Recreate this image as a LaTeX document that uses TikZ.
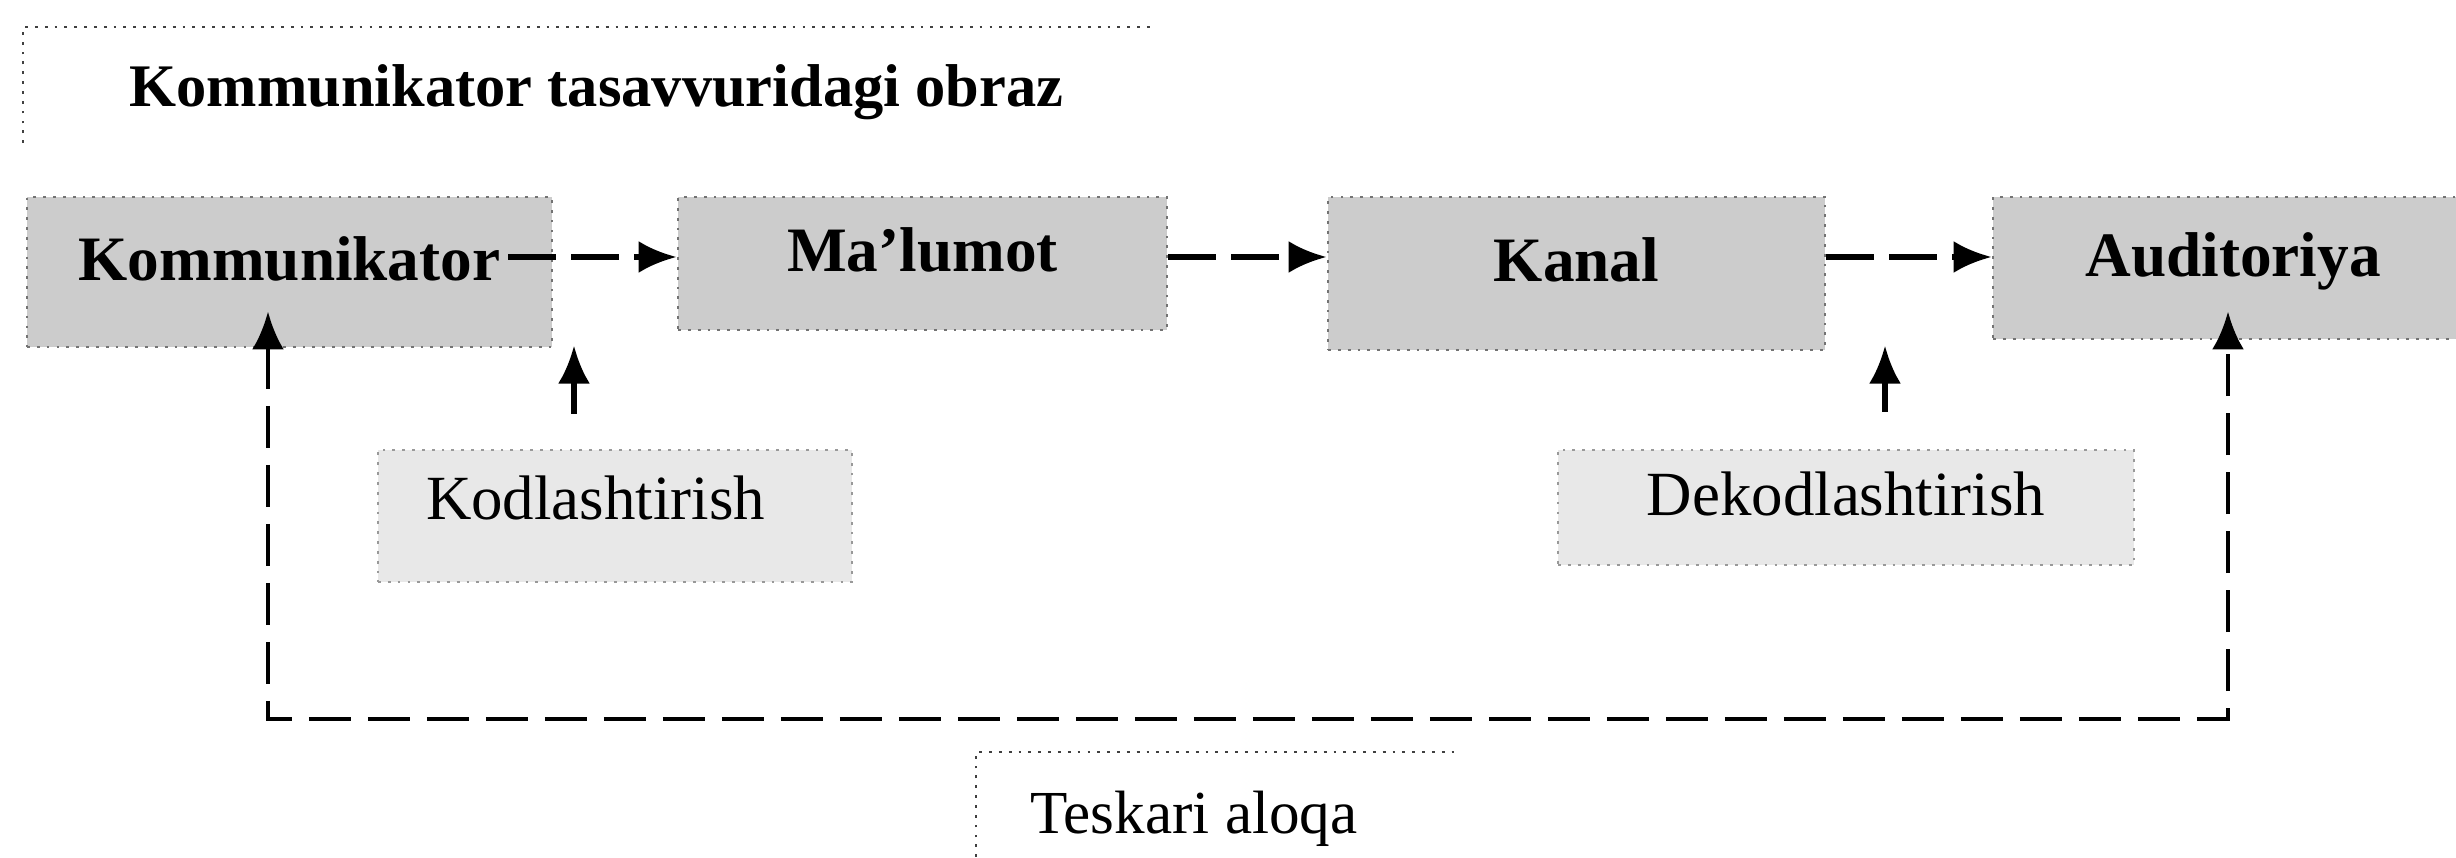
\documentclass[tikz,border=0pt]{standalone}
\usepackage{fontspec}
\setmainfont{Liberation Serif}
\usepackage{tikz}
\usetikzlibrary{calc,arrows.meta}

\begin{document}
\begin{tikzpicture}[
	>={Latex[length=3.8mm,width=3.2mm]},
	mainbox/.style={fill=black!20, draw=black!55, dotted, line width=0.8pt, inner sep=0pt, text height=0.7em, text depth=0.22em, font=\bfseries\fontsize{18}{21}\selectfont},
	subbox/.style={fill=black!9, draw=black!40, dotted, line width=0.8pt, inner sep=0pt, text height=0.7em, text depth=0.22em, font=\fontsize{17.9}{21}\selectfont},
	flow/.style={->, line width=1.5pt, dash pattern=on 4.8mm off 1.5mm},
	rise/.style={->, line width=1.5pt},
	feedback/.style={<->, line width=1.4pt, dash pattern=on 4.2mm off 1.7mm},
	edgeline/.style={dotted, line width=0.8pt, black!75}
]

	\useasboundingbox (0,0) rectangle (24.56,8.57);
	\clip (0,0) rectangle (24.56,8.57);

	\node (obraz)[anchor=base, font=\bfseries\fontsize{17.2}{20}\selectfont] at (5.965,7.50) {Kommunikator tasavvuridagi obraz};
	\draw [edgeline] (0.23,7.14) |- (11.55,8.30);

	\node (kom)[mainbox, minimum width=5.25cm, minimum height=1.50cm] at (2.895,5.85) {Kommunikator};
	\node (mal)[mainbox, minimum width=4.89cm, minimum height=1.33cm] at (9.225,5.935) {Ma’lumot};
	\node (kan)[mainbox, minimum width=4.97cm, minimum height=1.53cm] at (15.765,5.835) {Kanal};
	\node (aud)[mainbox, minimum width=4.80cm, minimum height=1.42cm] at (22.33,5.89) {Auditoriya}; %box runs past the right edge

	\node (kod)[subbox, inner xsep=0.48cm, text width=3.78cm, align=left, text depth=0.52em, minimum height=1.32cm] at (6.15,3.41) {Kodlashtirish};
	\node (dek)[subbox, minimum width=5.76cm, minimum height=1.15cm] at (18.46,3.495) {Dekodlashtirish};

	\node (tesk)[anchor=base, font=\fontsize{17.4}{20}\selectfont] at (11.94,0.24) {Teskari aloqa};
	\draw [edgeline] (9.76,0) |- (14.59,1.05);

	\draw [flow] ($(kom.east)+(-0.45,0.15)$) to ($(mal.west)+(0,0.065)$);
	\draw [flow] ($(mal.east)+(0,0.065)$) to ($(kan.west)+(0,0.165)$);
	\draw [flow] ($(kan.east)+(0,0.165)$) to ($(aud.west)+(0,0.11)$);

	\draw [rise] ($(kod.north)+(-0.41,0.35)$) to ++(0,0.68);
	\draw [rise] ($(dek.north)+(0.39,0.37)$) to ++(0,0.66);

	\coordinate (fb) at (12,1.38);
	\draw [feedback] ($(kom.south)+(-0.215,0.37)$) |- (fb) -| ($(aud.south)+(-0.05,0.29)$);

\end{tikzpicture}
\end{document}
